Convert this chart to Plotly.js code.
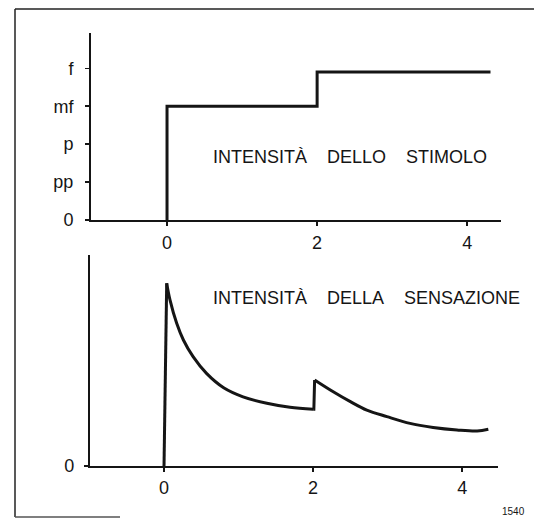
<!DOCTYPE html>
<html>
<head>
<meta charset="utf-8">
<script src="https://cdn.plot.ly/plotly-3.0.1.min.js"></script>
<style>html,body{margin:0;padding:0;background:#fff;}#chart{width:534px;height:519px;}</style>
</head>
<body>
<div id="chart"></div>
<script>
// Stimulus (top panel)
var stimX = [0, 0, 2, 2, 4.31];
var stimY = [0, 3, 3, 3.9, 3.9];
var stimTickVals = [0, 1, 2, 3, 4];
var stimTickText = ['0', 'pp', 'p', 'mf', 'f'];

// Sensation (bottom panel), split into its sharp and smooth pieces
var riseX = [0, 0, 0.036];
var riseY = [0, 0, 86.6];
var decay1X = [0.036, 0.08, 0.17, 0.26, 0.39, 0.57, 0.80, 1.06, 1.38, 1.69, 2.00];
var decay1Y = [86.6, 78.7, 67.6, 59.7, 51.8, 43.9, 37.1, 32.8, 29.7, 27.8, 26.9];
var jumpX = [2.00, 2.01, 2.02];
var jumpY = [26.9, 26.9, 40.8];
var decay2X = [2.02, 2.27, 2.50, 2.72, 2.99, 3.30, 3.61, 3.93, 4.20, 4.35];
var decay2Y = [40.8, 35.2, 30.5, 26.5, 23.4, 20.2, 18.3, 17.1, 16.6, 17.4];

var timeTicks = [0, 2, 4];
var timeTickText = ['0', '2', '4'];

var NB4 = '\u00A0\u00A0\u00A0\u00A0';
var labelTop = 'INTENSITÀ' + NB4 + 'DELLO' + NB4 + 'STIMOLO';
var labelBottom = 'INTENSITÀ' + NB4 + 'DELLA' + NB4 + 'SENSAZIONE';
var figNumber = '1540';

var FONT = 'Liberation Sans, Arial, sans-serif';
var INK = '#151515';

function seg(xs, ys, xa, ya, shape) {
  return {x: xs, y: ys, xaxis: xa, yaxis: ya, mode: 'lines',
    line: {color: INK, width: 3, shape: shape, smoothing: 1}, hoverinfo: 'skip', showlegend: false};
}

var traces = [
  seg(stimX, stimY, 'x', 'y', 'linear'),
  seg(riseX, riseY, 'x2', 'y2', 'linear'),
  seg(decay1X, decay1Y, 'x2', 'y2', 'spline'),
  seg(jumpX, jumpY, 'x2', 'y2', 'linear'),
  seg(decay2X, decay2Y, 'x2', 'y2', 'spline')
];

var axisCommon = {
  showgrid: false, zeroline: false, showline: true, linecolor: INK, linewidth: 2,
  ticks: 'outside', ticklen: 4, tickwidth: 1.5, tickcolor: INK,
  tickfont: {family: FONT, size: 18, color: INK}, fixedrange: true
};

var layout = {
  width: 534, height: 519,
  margin: {l: 0, r: 0, t: 0, b: 0},
  paper_bgcolor: '#ffffff', plot_bgcolor: 'rgba(0,0,0,0)',
  showlegend: false,
  xaxis: Object.assign({}, axisCommon, {
    domain: [0.1704, 0.9382], range: [-1.013, 4.45], anchor: 'y',
    tickvals: timeTicks, ticktext: timeTickText, ticklabelstandoff: 1
  }),
  yaxis: Object.assign({}, axisCommon, {
    domain: [0.5761, 0.9364], range: [0, 4.93], anchor: 'x',
    tickvals: stimTickVals, ticktext: stimTickText, ticklabelstandoff: 8
  }),
  xaxis2: Object.assign({}, axisCommon, {
    domain: [0.1685, 0.9326], range: [-0.993, 4.48], anchor: 'y2',
    tickvals: timeTicks, ticktext: timeTickText, ticklabelstandoff: 0
  }),
  yaxis2: Object.assign({}, axisCommon, {
    domain: [0.1021, 0.5087], range: [0, 100], anchor: 'x2',
    tickvals: [0], ticktext: ['0'], ticklabelstandoff: 6
  }),
  annotations: [
    {text: labelTop, xref: 'paper', yref: 'paper', x: 211/534, y: 1 - 157/519,
     xanchor: 'left', yanchor: 'middle', showarrow: false,
     font: {family: FONT, size: 18, color: INK}},
    {text: labelBottom, xref: 'paper', yref: 'paper', x: 211/534, y: 1 - 298/519,
     xanchor: 'left', yanchor: 'middle', showarrow: false,
     font: {family: FONT, size: 18, color: INK}},
    {text: figNumber, xref: 'paper', yref: 'paper', x: 513/534, y: 1 - 511/519,
     xanchor: 'center', yanchor: 'middle', showarrow: false,
     font: {family: FONT, size: 10, color: INK}}
  ],
  shapes: [
    {type: 'line', xref: 'paper', yref: 'paper', x0: 15/534, x1: 1, y0: 1 - 9/519, y1: 1 - 9/519,
     line: {color: '#222', width: 1.5}},
    {type: 'line', xref: 'paper', yref: 'paper', x0: 15/534, x1: 15/534, y0: 1 - 9/519, y1: 1 - 517/519,
     line: {color: '#222', width: 1.5}},
    {type: 'line', xref: 'paper', yref: 'paper', x0: 15/534, x1: 120/534, y0: 1 - 517/519, y1: 1 - 517/519,
     line: {color: '#555', width: 1.5}}
  ]
};

Plotly.newPlot('chart', traces, layout, {displayModeBar: false, staticPlot: true});
</script>
</body>
</html>
